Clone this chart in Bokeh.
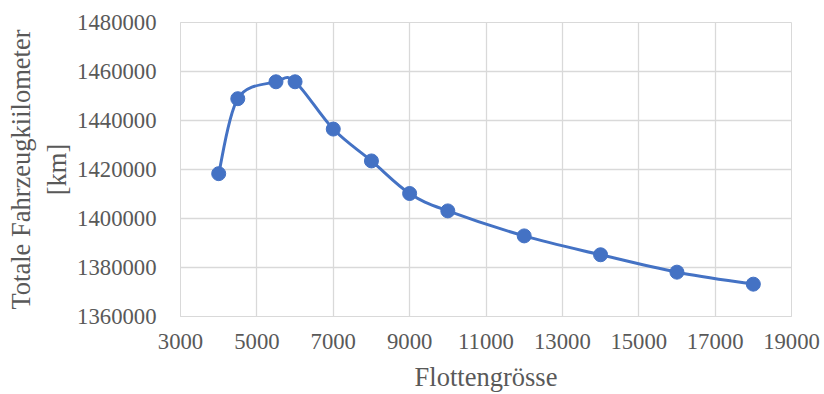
import numpy as np
from bokeh.plotting import figure
from bokeh.models import FixedTicker, NumeralTickFormatter, Range1d
from bokeh.embed import file_html
from bokeh.resources import INLINE

# Data
fleet_size = [4000, 4500, 5500, 6000, 7000, 8000, 9000, 10000, 12000, 14000, 16000, 18000]
total_km = [1418300, 1448900, 1455800, 1455800, 1436500, 1423500, 1410200, 1403100,
            1392900, 1385200, 1378100, 1373200]
x_ticks = [3000, 5000, 7000, 9000, 11000, 13000, 15000, 17000, 19000]
y_ticks = [1360000, 1380000, 1400000, 1420000, 1440000, 1460000, 1480000]

FONT = "Liberation Serif"
TXT = "#595959"
GRID = "#d9d9d9"
BLUE = "#4472C4"

p = figure(width=824, height=394, output_backend="svg", toolbar_location=None,
           x_range=Range1d(3000, 19000), y_range=Range1d(1360000, 1480000),
           min_border_left=180, min_border_right=33, min_border_top=22, min_border_bottom=78)

p.outline_line_color = GRID
p.background_fill_color = "white"
p.border_fill_color = "white"

for ax in (p.xaxis[0], p.yaxis[0]):
    ax.axis_line_color = GRID
    ax.major_tick_line_color = None
    ax.minor_tick_line_color = None
    ax.major_label_text_font = FONT
    ax.major_label_text_font_size = "22.7px"
    ax.major_label_text_color = TXT
    ax.axis_label_text_font = FONT
    ax.axis_label_text_font_size = "26.5px"
    ax.axis_label_text_color = TXT
    ax.axis_label_text_font_style = "normal"
    ax.formatter = NumeralTickFormatter(format="0")

p.xaxis.ticker = FixedTicker(ticks=x_ticks)
p.yaxis.ticker = FixedTicker(ticks=y_ticks)
p.xaxis.major_label_standoff = 11
p.yaxis.major_label_standoff = 18
p.xaxis.axis_label = "Flottengrösse"
p.yaxis.axis_label = "Totale Fahrzeugkiilometer\n[km]"
p.xaxis.axis_label_standoff = 10
p.yaxis.axis_label_standoff = 2

p.xgrid.ticker = FixedTicker(ticks=x_ticks)
p.ygrid.ticker = FixedTicker(ticks=y_ticks)
p.xgrid.grid_line_color = GRID
p.ygrid.grid_line_color = GRID
p.xgrid.grid_line_width = 1.3
p.ygrid.grid_line_width = 1.3

# Smoothed line (Catmull-Rom style Bezier segments through the data points)
x = np.array(fleet_size, dtype=float)
y = np.array(total_km, dtype=float)
n = len(x)
xp = np.concatenate([[x[0]], x, [x[-1]]])
yp = np.concatenate([[y[0]], y, [y[-1]]])
x0, y0 = x[:-1], y[:-1]
x1, y1 = x[1:], y[1:]
cx0 = x0 + (xp[2:n + 1] - xp[0:n - 1]) / 6.0
cy0 = y0 + (yp[2:n + 1] - yp[0:n - 1]) / 6.0
cx1 = x1 - (xp[3:n + 2] - xp[1:n]) / 6.0
cy1 = y1 - (yp[3:n + 2] - yp[1:n]) / 6.0

p.bezier(x0=x0, y0=y0, x1=x1, y1=y1, cx0=cx0, cy0=cy0, cx1=cx1, cy1=cy1,
         line_color=BLUE, line_width=3)
p.scatter(fleet_size, total_km, size=14, fill_color=BLUE, line_color=BLUE)

open("out.html", "w").write(file_html(p, INLINE))
